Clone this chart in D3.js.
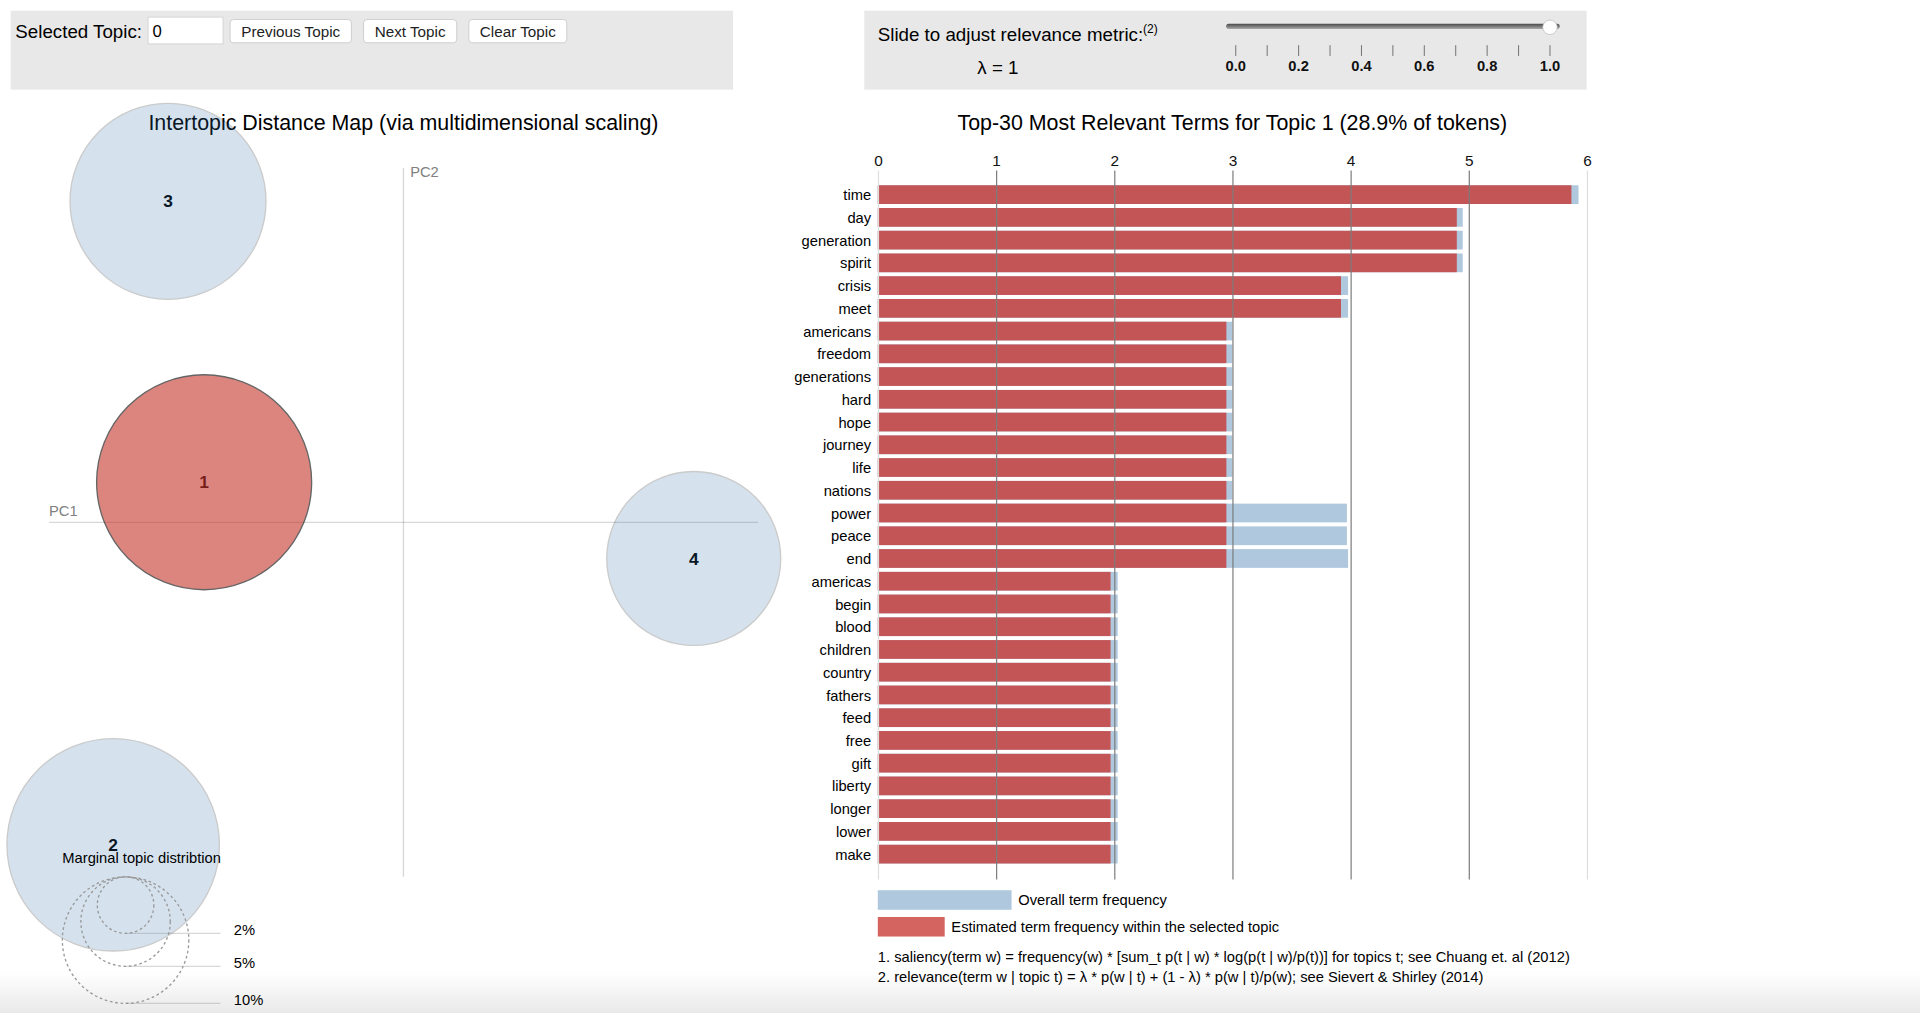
<!DOCTYPE html>
<html>
<head>
<meta charset="utf-8">
<script src="https://cdn.jsdelivr.net/npm/d3@7"></script>
<style>
html, body { margin: 0; padding: 0; background: #fff; overflow: hidden; }
text { font-family: "Liberation Sans", Arial, Helvetica, sans-serif; }
</style>
</head>
<body>
<div id="vis"></div>
<script>
// topics: position on the two principal components and share of tokens (%)
const topicIds = [1, 2, 3, 4];
const topicPC1 = [-0.149, -0.217, -0.176, 0.217];
const topicPC2 = [0.030, -0.241, 0.240, -0.027];
const topicFreq = [28.9, 28.2, 24.0, 18.9];
const selectedTopic = 1;

// top-30 most relevant terms for the selected topic
const terms = ["time", "day", "generation", "spirit", "crisis", "meet", "americans", "freedom",
    "generations", "hard", "hope", "journey", "life", "nations", "power", "peace", "end",
    "americas", "begin", "blood", "children", "country", "fathers", "feed", "free", "gift",
    "liberty", "longer", "lower", "make"];
// estimated term frequency within the selected topic
const termFreq = [5.87, 4.90, 4.90, 4.90, 3.92, 3.92, 2.95, 2.95, 2.95, 2.95, 2.95, 2.95, 2.95,
    2.95, 2.95, 2.95, 2.95, 1.97, 1.97, 1.97, 1.97, 1.97, 1.97, 1.97, 1.97, 1.97, 1.97, 1.97,
    1.97, 1.97];
// overall term frequency
const termTotal = [5.93, 4.95, 4.95, 4.95, 3.98, 3.98, 3.00, 3.00, 3.00, 3.00, 3.00, 3.00, 3.00,
    3.00, 3.97, 3.97, 3.98, 2.03, 2.03, 2.03, 2.03, 2.03, 2.03, 2.03, 2.03, 2.03, 2.03, 2.03,
    2.03, 2.03];

const lambdaTicks = [0, 0.1, 0.2, 0.3, 0.4, 0.5, 0.6, 0.7, 0.8, 0.9, 1.0];
const lambdaLabels = [0, 0.2, 0.4, 0.6, 0.8, 1.0];
const lambdaValue = 1;
const guideSizes = [2, 5, 10];
const guideLabels = ["2%", "5%", "10%"];
const buttonLabels = ["Previous Topic", "Next Topic", "Clear Topic"];

// layout (page px, the screenshot is zoomed)
const zoom = 1.3377;
const mdswidth = 530, mdsheight = 530, barwidth = 530, barheight = 530;
const circleProp = 0.25;
const mdsLeft = 36.6, mdsTop = 125.5;
const barLeft = 656.2, barTop = 127.5;

const blueBar = "#afc8de", redBar = "#c45556";
const blueLegend = "#afc8de", redLegend = "#d4645f";

const svgRoot = d3.select("#vis").append("svg")
    .attr("width", 1920)
    .attr("height", 1013);

const defs = svgRoot.append("defs");
const shade = defs.append("linearGradient").attr("id", "shade")
    .attr("x1", "0%").attr("x2", "0%").attr("y1", "0%").attr("y2", "100%");
shade.append("stop").attr("offset", "0%").style("stop-color", "#ffffff");
shade.append("stop").attr("offset", "100%").style("stop-color", "#e9e9e9");
const track = defs.append("linearGradient").attr("id", "track")
    .attr("x1", "0%").attr("x2", "0%").attr("y1", "0%").attr("y2", "100%");
track.append("stop").attr("offset", "0%").style("stop-color", "#4a4a4a");
track.append("stop").attr("offset", "100%").style("stop-color", "#a8a8a8");

// faint shading at the bottom of the frame, behind everything
svgRoot.append("rect")
    .attr("x", 0).attr("y", 972).attr("width", 1920).attr("height", 41)
    .attr("fill", "url(#shade)");

const svg = svgRoot.append("g").attr("transform", `scale(${zoom})`);

// ---- topic selection box
svg.append("rect")
    .attr("x", 8).attr("y", 8).attr("width", 540).attr("height", 59)
    .attr("fill", "#e8e8e8");
svg.append("text")
    .attr("x", 11.5).attr("y", 28.4)
    .style("font-size", "14px")
    .text("Selected Topic:");
svg.append("rect")
    .attr("x", 110.7).attr("y", 12.8).attr("width", 56).attr("height", 20)
    .attr("fill", "#fff").attr("stroke", "#d0d0d0").attr("stroke-width", 0.6);
svg.append("text")
    .attr("x", 114).attr("y", 27.4)
    .style("font-size", "12.5px")
    .text(selectedTopic - 1);

const buttonX = [172, 271.8, 350.5];
const buttonW = [90.7, 69.6, 73.2];
const buttons = svg.selectAll("g.button")
    .data(buttonLabels)
    .join("g")
    .attr("class", "button")
    .attr("transform", (d, i) => `translate(${buttonX[i]}, 14.6)`);
buttons.append("rect")
    .attr("width", (d, i) => buttonW[i]).attr("height", 17.4)
    .attr("rx", 2.5)
    .attr("fill", "#fff").attr("stroke", "#c6c6c6").attr("stroke-width", 0.6);
buttons.append("text")
    .attr("x", (d, i) => buttonW[i] / 2).attr("y", 12.9)
    .style("text-anchor", "middle")
    .style("font-size", "11.4px")
    .attr("fill", "#222")
    .text(d => d);

// ---- lambda slider box
svg.append("rect")
    .attr("x", 646.1).attr("y", 8).attr("width", 540).attr("height", 59)
    .attr("fill", "#e8e8e8");
const slideText = svg.append("text")
    .attr("x", 656.2).attr("y", 31)
    .style("font-size", "14px")
    .text("Slide to adjust relevance metric:");
slideText.append("tspan")
    .attr("dy", -6)
    .style("font-size", "9px")
    .text("(2)");
svg.append("text")
    .attr("x", 746).attr("y", 55)
    .style("font-size", "14px")
    .style("text-anchor", "middle")
    .text("\u03bb = " + lambdaValue);

const lambdaX = d3.scaleLinear().domain([0, 1]).range([923.8, 1158.7]);
svg.append("rect")
    .attr("x", 916.6).attr("y", 17.8).attr("width", 249.4).attr("height", 3.8)
    .attr("rx", 1.9)
    .attr("fill", "url(#track)");
svg.selectAll("line.lambdaTick")
    .data(lambdaTicks)
    .join("line")
    .attr("class", "lambdaTick")
    .attr("x1", d => lambdaX(d)).attr("x2", d => lambdaX(d))
    .attr("y1", 33.8).attr("y2", 41.8)
    .attr("stroke", "#555").attr("stroke-width", 0.6);
svg.selectAll("text.lambdaLabel")
    .data(lambdaLabels)
    .join("text")
    .attr("class", "lambdaLabel")
    .attr("x", d => lambdaX(d)).attr("y", 53.4)
    .style("text-anchor", "middle")
    .style("font-size", "11px")
    .style("font-weight", "bold")
    .attr("fill", "#111")
    .text(d => d.toFixed(1));
svg.append("circle")
    .attr("cx", lambdaX(lambdaValue)).attr("cy", 20.4).attr("r", 5.4)
    .attr("fill", "#fff").attr("stroke", "#b8b8b8").attr("stroke-width", 0.5);

// ---- intertopic distance map
const mds = svg.append("g").attr("transform", `translate(${mdsLeft}, ${mdsTop})`);
const topics = topicIds.map((id, i) => ({id: id, x: topicPC1[i], y: topicPC2[i], freq: topicFreq[i]}));

const xMds = d3.scaleLinear().domain([-0.265, 0.265]).range([0, mdswidth]);
const yMds = d3.scaleLinear().domain([0.265, -0.265]).range([0, mdsheight]);
const radius = f => Math.sqrt(f / 100 * mdswidth * mdsheight * circleProp / Math.PI);

mds.append("text")
    .attr("x", mdswidth / 2).attr("y", -28.5)
    .style("font-size", "16px")
    .style("text-anchor", "middle")
    .text("Intertopic Distance Map (via multidimensional scaling)");

mds.append("line")
    .attr("x1", 0).attr("x2", mdswidth)
    .attr("y1", mdsheight / 2).attr("y2", mdsheight / 2)
    .attr("stroke", "gray").attr("opacity", 0.3);
mds.append("text")
    .attr("x", 0).attr("y", mdsheight / 2 - 5)
    .style("font-size", "11px")
    .attr("fill", "gray")
    .text("PC1");
mds.append("line")
    .attr("x1", mdswidth / 2).attr("x2", mdswidth / 2)
    .attr("y1", 0).attr("y2", mdsheight)
    .attr("stroke", "gray").attr("opacity", 0.3);
mds.append("text")
    .attr("x", mdswidth / 2 + 5).attr("y", 7)
    .style("font-size", "11px")
    .attr("fill", "gray")
    .text("PC2");

// labels sit under the translucent circles
mds.selectAll("text.topicLabel")
    .data(topics)
    .join("text")
    .attr("class", "topicLabel")
    .attr("x", d => xMds(d.x)).attr("y", d => yMds(d.y) + 4.6)
    .style("text-anchor", "middle")
    .style("font-size", "13px")
    .style("font-weight", "bold")
    .text(d => d.id);

mds.selectAll("circle.topic")
    .data(topics)
    .join("circle")
    .attr("class", "topic")
    .attr("cx", d => xMds(d.x)).attr("cy", d => yMds(d.y))
    .attr("r", d => radius(d.freq))
    .attr("fill", d => d.id == selectedTopic ? "#c5352b" : "#3273af")
    .attr("stroke", "black")
    .attr("opacity", d => d.id == selectedTopic ? 0.6 : 0.2);

// marginal topic distribution guide
const rLarge = radius(guideSizes[guideSizes.length - 1]);
const cx = 10 + rLarge, cx2 = cx + 1.5 * rLarge;
guideSizes.forEach(function (s, i) {
    let r = radius(s);
    mds.append("circle")
        .attr("cx", cx).attr("cy", mdsheight + r).attr("r", r)
        .attr("fill", "none")
        .attr("stroke", "#999")
        .attr("stroke-dasharray", "2 2");
    mds.append("line")
        .attr("x1", cx).attr("x2", cx2)
        .attr("y1", mdsheight + 2 * r).attr("y2", mdsheight + 2 * r)
        .attr("stroke", "gray").attr("opacity", 0.3);
    mds.append("text")
        .attr("x", cx2 + 10).attr("y", mdsheight + 2 * r + 1)
        .style("font-size", "11px")
        .text(guideLabels[i]);
});
mds.append("text")
    .attr("x", 10).attr("y", mdsheight - 10)
    .style("font-size", "11px")
    .text("Marginal topic distribtion");

// ---- bar chart of relevant terms
const bars = svg.append("g").attr("transform", `translate(${barLeft}, ${barTop})`);
const rows = terms.map((t, i) => ({term: t, freq: termFreq[i], total: termTotal[i]}));

const xBar = d3.scaleLinear().domain([0, d3.max(termTotal)]).range([0, barwidth]).nice();
const yBar = d3.scaleBand().domain(terms).range([0, barheight]).padding(0.15).round(true);

bars.append("text")
    .attr("x", barwidth / 2).attr("y", -30)
    .style("font-size", "16px")
    .style("text-anchor", "middle")
    .text(`Top-30 Most Relevant Terms for Topic ${selectedTopic} (${topicFreq[selectedTopic - 1]}% of tokens)`);

bars.selectAll("rect.total")
    .data(rows)
    .join("rect")
    .attr("class", "total")
    .attr("x", 0).attr("y", d => yBar(d.term))
    .attr("width", d => xBar(d.total))
    .attr("height", yBar.bandwidth())
    .attr("fill", blueBar);

bars.selectAll("rect.freq")
    .data(rows)
    .join("rect")
    .attr("class", "freq")
    .attr("x", 0).attr("y", d => yBar(d.term))
    .attr("width", d => xBar(d.freq))
    .attr("height", yBar.bandwidth())
    .attr("fill", redBar);

bars.selectAll("text.term")
    .data(rows)
    .join("text")
    .attr("class", "term")
    .attr("x", -5).attr("y", d => yBar(d.term) + yBar.bandwidth() / 2)
    .attr("dy", "0.38em")
    .style("text-anchor", "end")
    .style("font-size", "11px")
    .text(d => d.term);

const xAxis = bars.append("g")
    .call(d3.axisTop(xBar).ticks(6).tickSize(-barheight).tickPadding(3));
xAxis.select(".domain").remove();
const xMax = xBar.domain()[1];
xAxis.selectAll(".tick line")
    .attr("stroke", d => (d == 0 || d == xMax) ? "#dedede" : "#7c7c7c")
    .attr("stroke-width", 0.9);
xAxis.selectAll(".tick text")
    .style("font-family", "\"Liberation Sans\", Arial, sans-serif")
    .style("font-size", "11.5px")
    .attr("fill", "#111")
    .attr("y", -3.5);

// legend and notes
bars.append("rect")
    .attr("x", 0).attr("y", barheight + 8).attr("width", 100).attr("height", 14.6)
    .attr("fill", blueLegend);
bars.append("text")
    .attr("x", 105).attr("y", barheight + 19)
    .style("font-size", "11px")
    .text("Overall term frequency");
bars.append("rect")
    .attr("x", 0).attr("y", barheight + 28).attr("width", 50).attr("height", 14.6)
    .attr("fill", redLegend);
bars.append("text")
    .attr("x", 55).attr("y", barheight + 39)
    .style("font-size", "11px")
    .text("Estimated term frequency within the selected topic");
bars.append("text")
    .attr("x", 0).attr("y", barheight + 62)
    .style("font-size", "11px")
    .text("1. saliency(term w) = frequency(w) * [sum_t p(t | w) * log(p(t | w)/p(t))] for topics t; see Chuang et. al (2012)");
bars.append("text")
    .attr("x", 0).attr("y", barheight + 76.5)
    .style("font-size", "11px")
    .text("2. relevance(term w | topic t) = \u03bb * p(w | t) + (1 - \u03bb) * p(w | t)/p(w); see Sievert & Shirley (2014)");
</script>
</body>
</html>
